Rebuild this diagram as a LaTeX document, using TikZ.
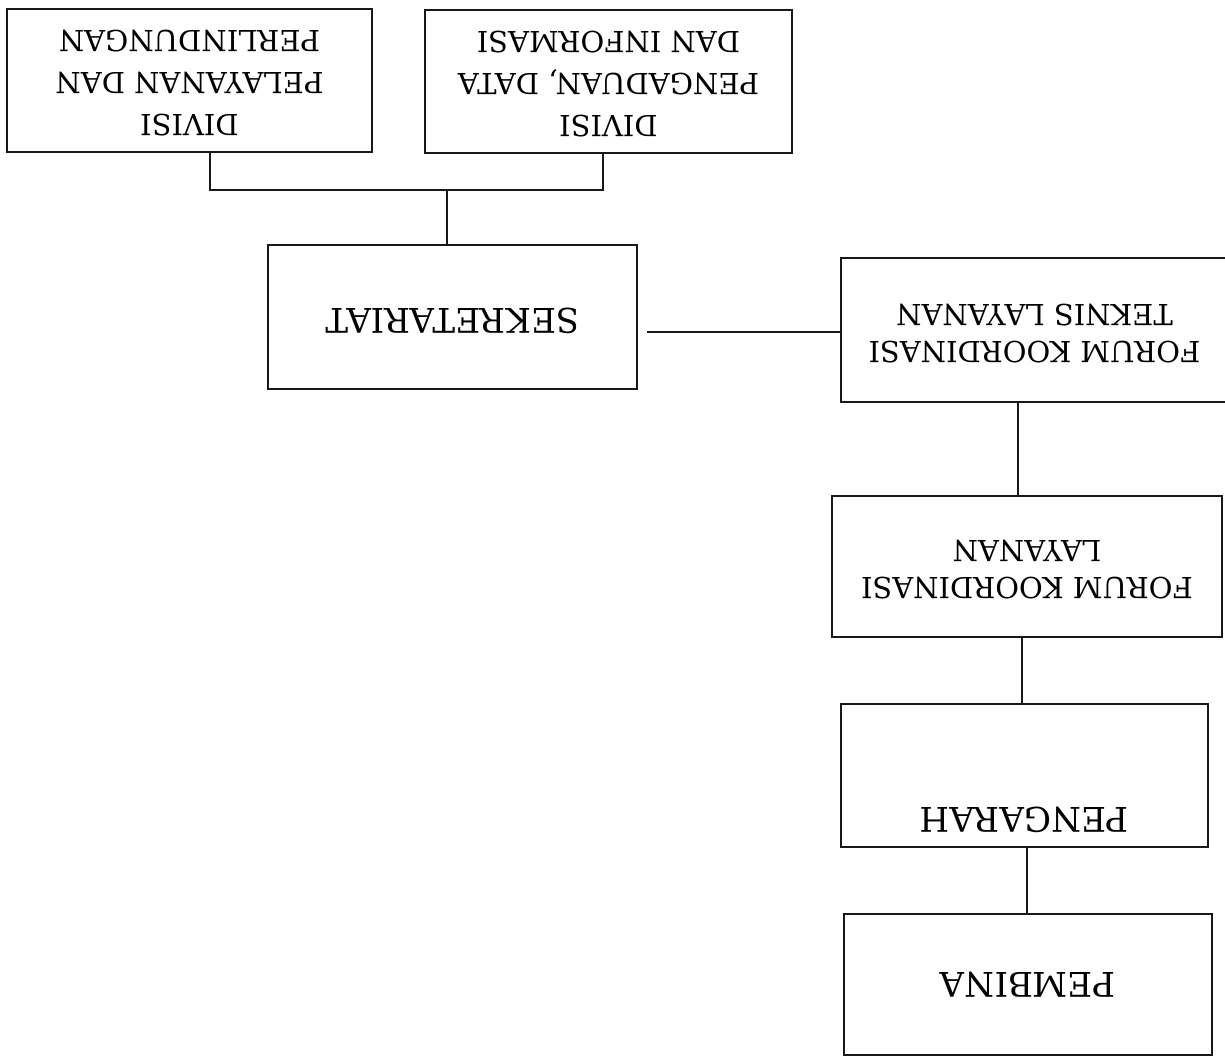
\documentclass[tikz,border=0pt]{standalone}
\usepackage{fontspec}
\setmainfont{DejaVu Serif}
\usepackage{graphicx}
\newcommand\flipt[1]{\rotatebox{180}{\begin{tabular}{@{}c@{}}#1\end{tabular}}}
\begin{document}
\begin{tikzpicture}[x=1pt,y=-1pt,
  box/.style={draw=black!90, line width=2.2pt, rectangle, inner sep=0pt, text=black},
  conn/.style={draw=black!90, line width=2.6pt},
  big/.style={font=\fontsize{34}{42}\selectfont},
  mid/.style={font=\fontsize{29}{42}\selectfont},
  small/.style={font=\fontsize{29}{37}\selectfont}]
\useasboundingbox[fill=white] (0,0) rectangle (1225,1057);
\node[box, mid, minimum width=365pt, minimum height=143pt] (b1) at (189.5,80.5) {\flipt{DIVISI\\PELAYANAN DAN\\PERLINDUNGAN}};
\node[box, mid, minimum width=367pt, minimum height=143pt] (b2) at (608.5,81.5) {\flipt{DIVISI\\PENGADUAN, DATA\\DAN INFORMASI}};
\node[box, big, minimum width=369pt, minimum height=144pt] (sek) at (452.5,317) {\flipt{SEKRETARIAT}};
\node[box, small, minimum width=387pt, minimum height=144pt] (ftl) at (1034.5,330) {\flipt{FORUM KOORDINASI\\TEKNIS LAYANAN}};
\node[box, small, minimum width=390pt, minimum height=141pt] (fkl) at (1027,566.5) {\flipt{FORUM KOORDINASI\\LAYANAN}};
\node[box, minimum width=367pt, minimum height=143pt] (peng) at (1024.5,775.5) {};
\node[big, text=black, inner sep=0pt] (pengt) at ([yshift=-40pt]peng.center) {\flipt{PENGARAH}};
\node[box, minimum width=368pt, minimum height=141pt] (pemb) at (1028,984.5) {};
\node[big, text=black, inner sep=0pt] (pembt) at ([yshift=4pt]pemb.center) {\flipt{PEMBINA}};
\coordinate (j) at (447,190);
\coordinate (h) at (647,332);
\draw[conn] ([xshift=20.5pt]b1.south) |- (j) -| ([xshift=-5.5pt]b2.south);
\draw[conn] (j) -- (j |- sek.north);
\draw[conn] (h) -- (h -| ftl.west);
\draw[conn] ([xshift=-16.5pt]ftl.south) -- ([xshift=-16.5pt]ftl.south |- fkl.north);
\draw[conn] ([xshift=-5pt]fkl.south) -- ([xshift=-5pt]fkl.south |- peng.north);
\draw[conn] ([xshift=2.5pt]peng.south) -- ([xshift=2.5pt]peng.south |- pemb.north);
\end{tikzpicture}
\end{document}
